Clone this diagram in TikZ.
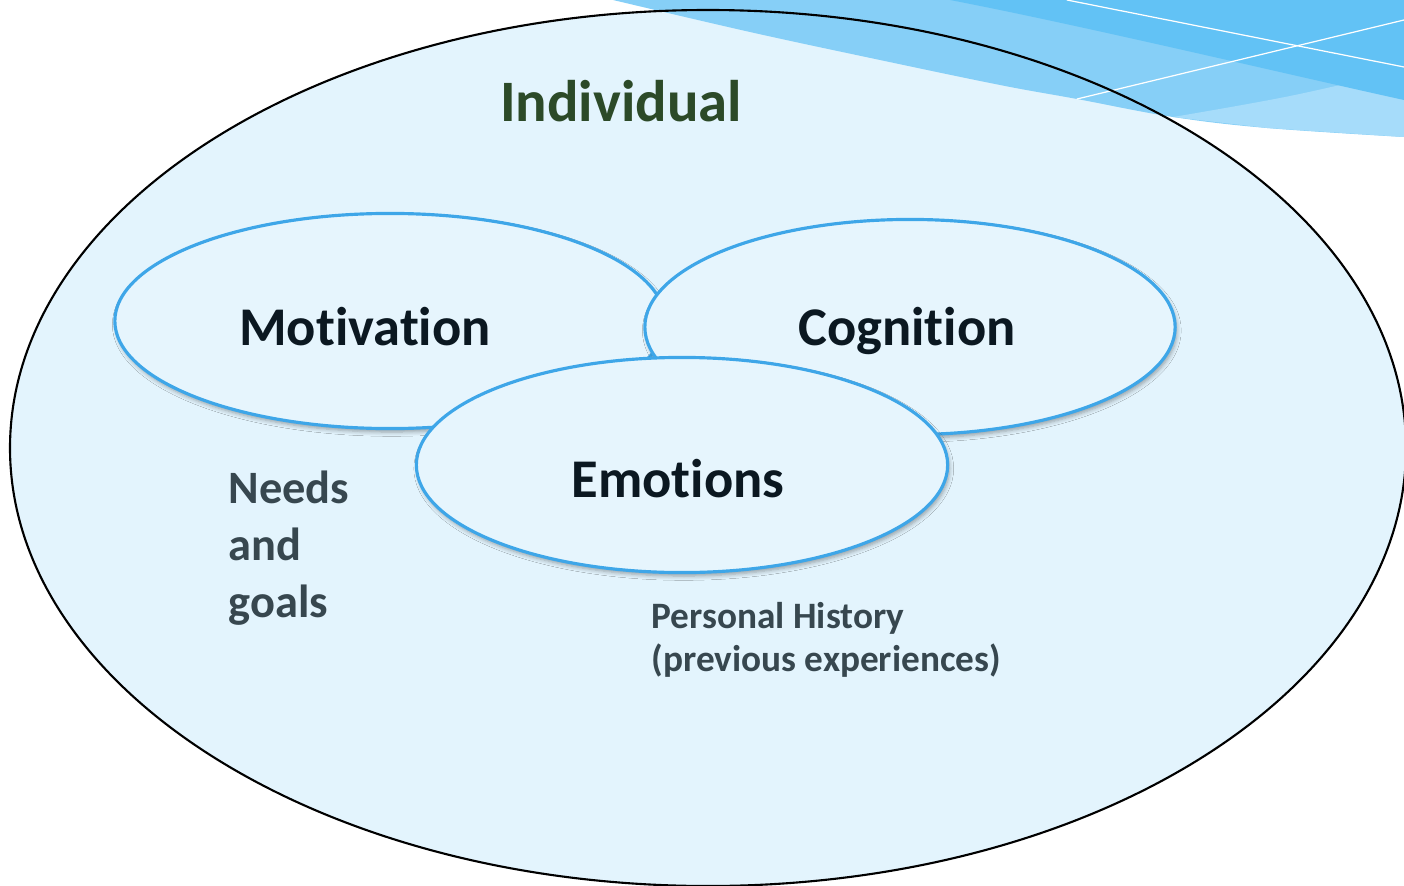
\documentclass[tikz,border=0pt]{standalone}
\usepackage{fontspec}
\setmainfont{Carlito}[Ligatures=NoCommon]
\usetikzlibrary{shapes.geometric,shadows.blur}

\definecolor{sfondo}{HTML}{E3F4FD}
\definecolor{bolla}{HTML}{E6F5FD}
\definecolor{bordo}{HTML}{3EA6E8}
\definecolor{onda1}{HTML}{86CFF7}
\definecolor{onda2}{HTML}{62C2F5}
\definecolor{onda3}{HTML}{A6DCFA}
\definecolor{verdescuro}{HTML}{2C4A28}
\definecolor{quasinero}{HTML}{0B1821}
\definecolor{grigioblu}{HTML}{37474F}

\tikzset{
  area/.style={ellipse, draw=bordo, line width=0.9pt, fill=bolla, inner sep=0pt,
    minimum height=2.15cm,
    blur shadow={shadow xshift=0.5pt, shadow yshift=-1pt, shadow blur steps=5,
      shadow blur radius=1.2pt, shadow opacity=35}},
  voce/.style={font=\bfseries\fontsize{15.5}{18}\selectfont, text=quasinero, anchor=base},
  nota/.style={font=\bfseries\fontsize{13.2}{16.2}\selectfont, text=grigioblu, align=left,
    anchor=base west, inner sep=0pt},
}

\begin{document}
\begin{tikzpicture}[x=0.01cm, y=-0.01cm, line cap=round, line join=round]

\useasboundingbox (0,0) rectangle (1404,885);

% Ellisse esterna
\coordinate (C) at (708,448);
\fill[sfondo] (C) ellipse [x radius=698, y radius=438];

% Onde in alto a destra
\fill[onda1] (613,0) -- (1404,0) -- plot[smooth, tension=0.6] coordinates {
    (1404,137) (1267,128) (1173,117) (1077,99) (1000,85) (880,60) (750,32) (613,0)} -- cycle;
\fill[onda3] plot[smooth, tension=0.6] coordinates {(1173,117) (1290,96) (1404,70)}
    -- (1404,137) -- plot[smooth, tension=0.6] coordinates {(1267,128) (1173,117)} -- cycle;
\fill[onda2] (950,0) -- (1404,0) -- (1404,100)
    .. controls (1290,75) and (1080,25) .. (950,0) -- cycle;
\draw[white, line width=0.35pt] (1067,0) -- (1404,67);
\draw[white, line width=0.35pt] (1077,99) -- (1404,20);

\draw[line width=0.6pt] (C) ellipse [x radius=698, y radius=438];

% Titolo
\node[font=\bfseries\fontsize{16.7}{20}\selectfont, text=verdescuro, anchor=base]
    (individuo) at (621,122) {Individual};

% Tre aree
\node[area, minimum width=5.5cm] (motivazione) at (390,321) {};
\node[area, minimum width=5.3cm] (cognizione) at (910,327) {};
\node[area, minimum width=5.31cm] (emozioni) at (682,465) {};

\node[voce] (motivazione-t) at (365,345) {Motivation};
\node[voce] (cognizione-t) at (907,345) {Cognition};
\node[voce] (emozioni-t) at (678,497) {Emotions};

% Note
\node[nota] (bisogni) at (228,617) {Needs\\and\\goals};
\node[nota, font=\bfseries\fontsize{10.6}{12.2}\selectfont] (storia) at (651,671)
    {Personal History\\(previous experiences)};

\end{tikzpicture}
\end{document}
